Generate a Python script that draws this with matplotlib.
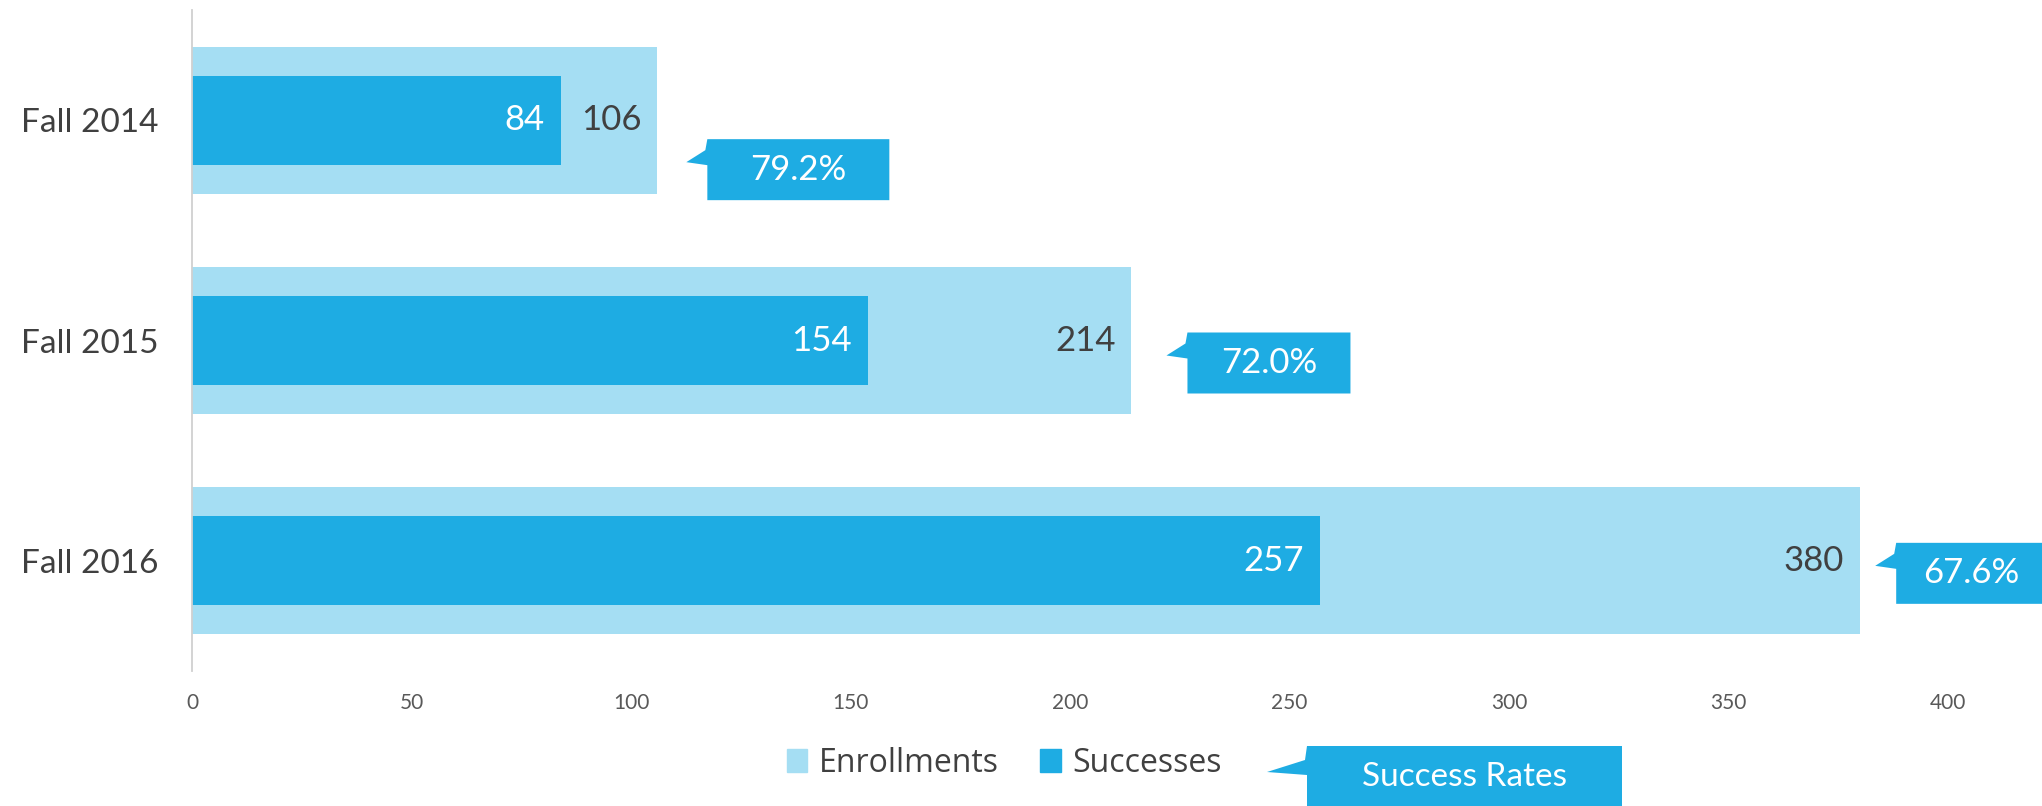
import numpy as np
import matplotlib
matplotlib.use("Agg")
import matplotlib.pyplot as plt
from matplotlib.patches import Polygon, Patch
from matplotlib.transforms import IdentityTransform

plt.rcParams['font.family'] = ['Lato', 'DejaVu Sans']

#### DATA ####
terms = ['Fall 2014', 'Fall 2015', 'Fall 2016']
enrollments = [106, 214, 380]
successes = [84, 154, 257]
success_rates = ['79.2%', '72.0%', '67.6%']
x_ticks = [0, 50, 100, 150, 200, 250, 300, 350, 400]

#### STYLE ####
LIGHT = '#A5DEF3'
DARK = '#1EACE3'
TEXT = '#404040'
W, H = 2042, 806
# callout tip offset from bar end (px, y down), box width (px)
callout_offsets = [(29, 42), (35, 15), (15, 5)]
callout_widths = [182, 163, 150]

fig = plt.figure(figsize=(W / 100, H / 100), dpi=100)
ax = fig.add_axes([192 / W, 1 - 671 / H, (1948 - 192) / W, (671 - 10) / H])

y = np.arange(len(terms))
ax.barh(y, enrollments, height=0.667, color=LIGHT, label='Enrollments')
ax.barh(y, successes, height=0.405, color=DARK, label='Successes')

ax.set_xlim(0, 400)
ax.set_ylim(2.5, -0.5)
ax.set_yticks(y, terms)
ax.set_xticks(x_ticks)
ax.tick_params(axis='y', length=0, pad=24, labelsize=24, labelcolor=TEXT)
ax.tick_params(axis='x', length=0, pad=16, labelsize=15, labelcolor='#595959')
for side in ['top', 'right', 'bottom']:
    ax.spines[side].set_visible(False)
ax.spines['left'].set_color('#D0D0D0')
ax.spines['left'].set_linewidth(1.3)

# value labels, right aligned just inside the bar end
for i in range(len(terms)):
    ax.annotate(str(successes[i]), (successes[i], y[i]), xytext=(-11.5, 0),
                textcoords='offset points', ha='right', va='center',
                fontsize=25, color='white')
    ax.annotate(str(enrollments[i]), (enrollments[i], y[i]), xytext=(-11.5, 0),
                textcoords='offset points', ha='right', va='center',
                fontsize=25, color=TEXT)


def draw_callout(tip_x, tip_y, left, top, width, height, text, size):
    # coordinates in image pixels, y pointing down
    pts = [(tip_x, tip_y), (left - 2, tip_y - 12), (left, top),
           (left + width, top), (left + width, top + height),
           (left, top + height), (left, tip_y + 3)]
    pts = [(px, H - py) for px, py in pts]
    fig.add_artist(Polygon(pts, closed=True, transform=IdentityTransform(),
                           facecolor=DARK, edgecolor='none'))
    fig.text((left + width / 2) / W, 1 - (top + height / 2) / H, text,
             ha='center', va='center', fontsize=size, color='white')


# success rate callouts next to each enrollment bar
for i in range(len(terms)):
    px, py = ax.transData.transform((enrollments[i], y[i]))
    tx = px + callout_offsets[i][0]
    ty = (H - py) + callout_offsets[i][1]
    draw_callout(tx, ty, tx + 21, ty - 23, callout_widths[i], 61,
                 success_rates[i], 25)

# legend
handles = [Patch(color=LIGHT, label='Enrollments'),
           Patch(color=DARK, label='Successes')]
fig.legend(handles=handles, loc='center', bbox_to_anchor=(1004 / W, 1 - 763 / H),
           ncol=2, frameon=False, handlelength=0.65, handleheight=0.75,
           handletextpad=0.35, columnspacing=1.3, labelcolor=TEXT,
           prop={'family': 'Open Sans', 'size': 23})
draw_callout(1267, 772, 1307, 746, 315, 62, 'Success Rates', 24)

fig.savefig('out.png', dpi=100)
